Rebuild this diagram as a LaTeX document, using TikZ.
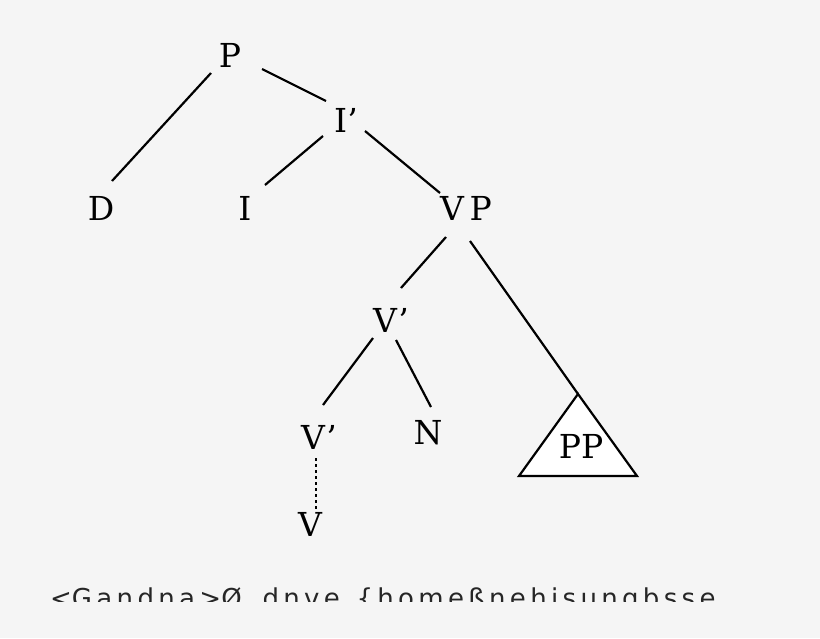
\documentclass[tikz,border=0pt]{standalone}
\usepackage{fontspec}
\setmainfont{DejaVu Serif}
\newfontfamily\botfont{DejaVu Sans}
\begin{document}
\begin{tikzpicture}[x=1pt,y=-1pt,
  lab/.style={font=\fontsize{33}{36}\selectfont,inner sep=0pt},
  edge/.style={line width=2.2pt}]
\fill[white!96!black] (0,0) rectangle (820,638);
\useasboundingbox (0,0) rectangle (820,638);
\node[lab] (P) at (230,55) {P};
\node[lab] (Ib) at (346,120) {I'};
\node[lab] (D) at (101,208) {D};
\node[lab] (I) at (245,208) {I};
\node[lab] (VP) at (466,208) {V\,P};
\node[lab] (Vb) at (391,320) {V'};
\node[lab] (Vb2) at (319,437) {V'};
\node[lab] (N) at (428,433) {N};
\node[lab] (V) at (310,524) {V};
\coordinate (a1) at (211,73); \coordinate (a2) at (112,181);
\coordinate (b1) at (262,69); \coordinate (b2) at (326,101);
\coordinate (c1) at (323,136); \coordinate (c2) at (265,185);
\coordinate (d1) at (365,131); \coordinate (d2) at (440,193);
\coordinate (e1) at (446,237); \coordinate (e2) at (401,288);
\coordinate (f1) at (470,241); \coordinate (top) at (578,394);
\coordinate (g1) at (373,338); \coordinate (g2) at (323,405);
\coordinate (h1) at (396,340); \coordinate (h2) at (431,407);
\coordinate (i1) at (316,458); \coordinate (i2) at (316,510);
\coordinate (bl) at (519,476); \coordinate (br) at (637,476);
\draw[edge] (a1) -- (a2);
\draw[edge] (b1) -- (b2);
\draw[edge] (c1) -- (c2);
\draw[edge] (d1) -- (d2);
\draw[edge] (e1) -- (e2);
\draw[edge] (f1) -- (top);
\draw[edge] (g1) -- (g2);
\draw[edge] (h1) -- (h2);
\draw[edge,dash pattern=on 3pt off 3pt] (i1) -- (i2);
\draw[edge,fill=white] (top) -- (br) -- (bl) -- cycle;
\node[lab] (PP) at (581,446) {PP};
\begin{scope}
\clip (0,570) rectangle (820,601);
\node[anchor=west,inner sep=0pt,font=\botfont\fontsize{26}{28}\selectfont,text=black!85] (bot) at (50,600)
 {<G\,a\,n\,d\,n\,a\,>Ø\ \ \,d\,n\,v\,e\ \ \{\,h\,o\,m\,e\,ß\,n\,e\,h\,i\,s\,u\,n\,g\,b\,s\,s\,e};
\end{scope}
\end{tikzpicture}
\end{document}
